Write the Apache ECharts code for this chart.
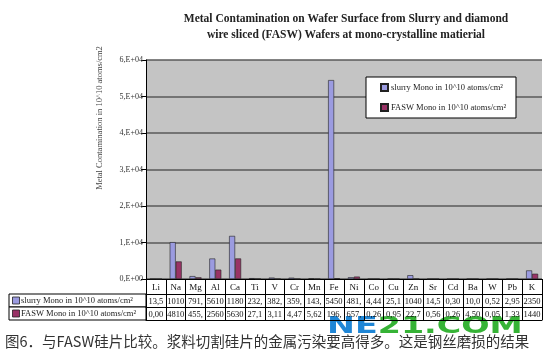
<!DOCTYPE html>
<html><head><meta charset="utf-8">
<script src="https://cdn.jsdelivr.net/npm/echarts@6/dist/echarts.min.js"></script>
<style>html,body{margin:0;padding:0;background:#fff}#c{width:552px;height:351px}</style>
</head><body><div id="c"></div>
<script>
const categories = ['Li','Na','Mg','Al','Ca','Ti','V','Cr','Mn','Fe','Ni','Co','Cu','Zn','Sr','Cd','Ba','W','Pb','K'];
const slurry = [13.5,10100,791,5610,11800,232,382,359,143,54500,481,4.44,25.1,1040,14.5,0.30,10.0,0.52,2.95,2350];
const fasw   = [0.00,4810,455,2560,5630,27.1,3.11,4.47,5.62,196,657,0.26,0.95,22.7,0.56,0.26,4.5,0.05,1.33,1440];
const yTicks = [0,10000,20000,30000,40000,50000,60000];
const seriesNames = ['slurry Mono in 10^10 atoms/cm\u00b2','FASW Mono in 10^10 atoms/cm\u00b2'];
const titleText = 'Metal Contamination on Wafer Surface from Slurry and diamond\nwire sliced (FASW) Wafers at mono-crystalline matierial';
const yName = 'Metal Contamination in 10^10 atoms/cm2';
const caption = '图6．与FASW硅片比较。浆料切割硅片的金属污染要高得多。这是钢丝磨损的结果';

const fmt = v => v.toFixed(2).replace('.', ',').slice(0, 4);
const serif = 'Liberation Serif';
const C1 = '#9b9be0', C2 = '#993366';
const G = {left:146, right:10, top:60, bottom:72};
const rowH0 = 15, rowH = 13;

function tableAxis(data, offset, h, showLabel) {
  return {
    type:'category', data:data, position:'bottom', offset:offset,
    axisLine:{show:true, lineStyle:{color:'#000', width:1}},
    axisTick:{show:h>0, interval:0, length:h, lineStyle:{color:'#000', width:1}},
    axisLabel:{show:showLabel, interval:0, margin:3, fontFamily:serif, fontSize:8.5, color:'#111', hideOverlap:false},
    splitLine:{show:false}
  };
}

const chart = echarts.init(document.getElementById('c'), null, {renderer:'canvas'});
const gridBottomY = 351 - G.bottom;
chart.setOption({
  animation:false,
  backgroundColor:'#fff',
  title:{text:titleText, left:341, top:6, textAlign:'center',
    textStyle:{fontFamily:serif, fontWeight:'bold', fontSize:11.5, color:'#222', lineHeight:16}},
  legend:{data:seriesNames, orient:'vertical', left:366, top:77, itemWidth:7, itemHeight:7, itemGap:11,
    icon:'rect', padding:[6,10,6,14], backgroundColor:'#fff', borderColor:'#000', borderWidth:1,
    textStyle:{fontFamily:serif, fontSize:8.5, color:'#222', padding:[0,0,0,-2]}},
  grid:{left:G.left, right:G.right, top:G.top, bottom:G.bottom, show:true, backgroundColor:'#c4c4c4', borderWidth:0},
  xAxis:[
    Object.assign(tableAxis(categories, 0, rowH0, true), {axisLabel:{interval:0, margin:4, fontFamily:serif, fontSize:9, color:'#111'}}),
    tableAxis(slurry.map(fmt), rowH0, rowH, true),
    tableAxis(fasw.map(fmt), rowH0+rowH, rowH, true),
    tableAxis(categories, rowH0+2*rowH, 0, false)
  ],
  yAxis:{type:'value', min:yTicks[0], max:yTicks[yTicks.length-1], interval:10000,
    axisLine:{show:true, lineStyle:{color:'#000', width:1}},
    axisTick:{show:true, length:5, lineStyle:{color:'#000'}},
    axisLabel:{margin:3, fontFamily:serif, fontSize:8, color:'#333',
      formatter:v => v===0 ? '0,E+00' : (v/10000)+',E+04'},
    splitLine:{show:true, lineStyle:{color:'#5a5a5a', width:1.5}}},
  series:[
    {name:seriesNames[0], type:'bar', xAxisIndex:0, data:slurry, barWidth:6, barGap:'0%',
      itemStyle:{color:C1, borderColor:'#222', borderWidth:0.6}},
    {name:seriesNames[1], type:'bar', xAxisIndex:0, data:fasw, barWidth:6, barGap:'0%',
      itemStyle:{color:C2, borderColor:'#222', borderWidth:0.6}}
  ],
  graphic:[
    {type:'text', x:100, y:118, rotation:Math.PI/2,
      style:{text:yName, fontFamily:serif, fontSize:8.5, fill:'#444', align:'center', verticalAlign:'middle'}},
    {type:'rect', shape:{x:9, y:gridBottomY+rowH0, width:G.left-9, height:rowH},
      style:{fill:'#fff', stroke:'#000', lineWidth:1}},
    {type:'rect', shape:{x:9, y:gridBottomY+rowH0+rowH, width:G.left-9, height:rowH},
      style:{fill:'#fff', stroke:'#000', lineWidth:1}},
    {type:'rect', shape:{x:12.5, y:gridBottomY+rowH0+3, width:7, height:7},
      style:{fill:C1, stroke:'#222', lineWidth:0.8}},
    {type:'rect', shape:{x:12.5, y:gridBottomY+rowH0+rowH+3, width:7, height:7},
      style:{fill:C2, stroke:'#222', lineWidth:0.8}},
    {type:'text', x:21, y:gridBottomY+rowH0+rowH/2+0.5,
      style:{text:seriesNames[0], fontFamily:serif, fontSize:8.5, fill:'#222', verticalAlign:'middle'}},
    {type:'text', x:21, y:gridBottomY+rowH0+rowH*1.5+0.5,
      style:{text:seriesNames[1], fontFamily:serif, fontSize:8.5, fill:'#222', verticalAlign:'middle'}},
    {type:'text', x:5, y:341,
      style:{text:caption, fontFamily:'Noto Sans CJK SC', fontSize:14.5, fill:'#333', verticalAlign:'middle'}},
    {type:'text', x:327, y:327.5, scaleX:1.45,
      style:{text:'{a|NE}{b|21.COM}', verticalAlign:'middle',
        rich:{a:{fontFamily:'DejaVu Sans', fontWeight:'bold', fontSize:23, fill:'#1f86d6', color:'#1f86d6'},
              b:{fontFamily:'DejaVu Sans', fontWeight:'bold', fontSize:23, fill:'#36b336', color:'#36b336'}}}}
  ]
});
</script></body></html>
